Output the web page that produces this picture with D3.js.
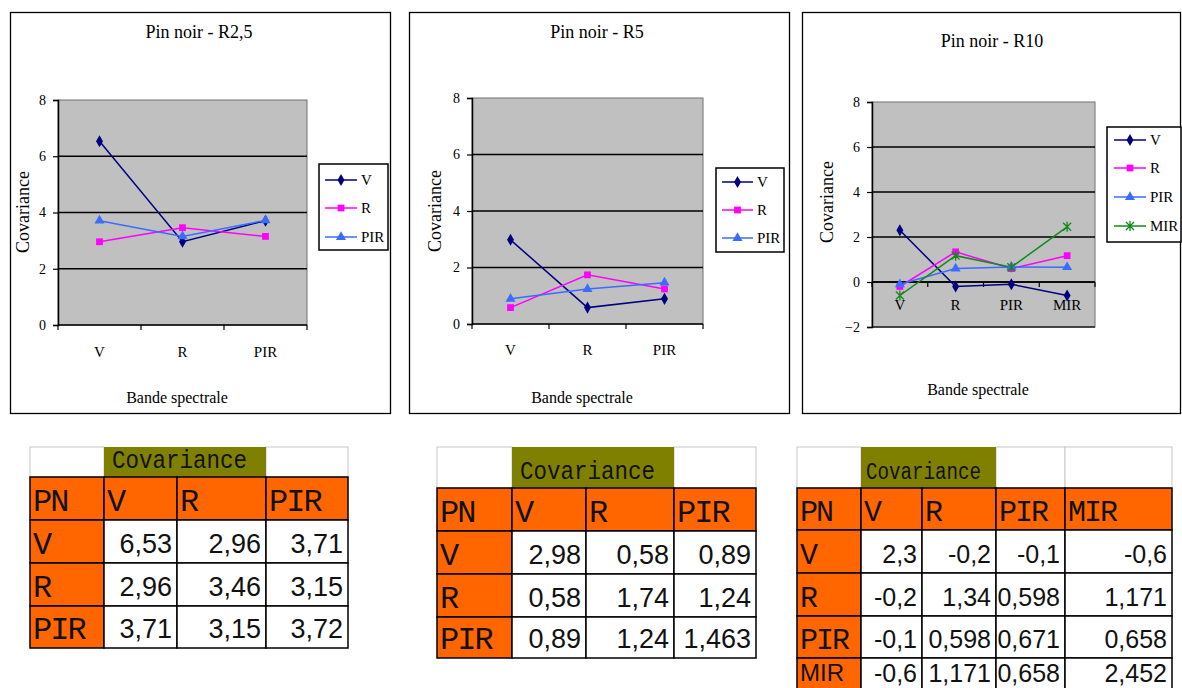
<!DOCTYPE html>
<html>
<head>
<meta charset="utf-8">
<script src="https://cdn.jsdelivr.net/npm/d3@7"></script>
<style>
  body { margin: 0; background: #ffffff; }
  svg { display: block; }
</style>
</head>
<body>
<svg id="chart" width="1182" height="688"></svg>
<script>
// ---------------- DATA ----------------
const bands3 = ["V", "R", "PIR"];
const bands4 = ["V", "R", "PIR", "MIR"];
const yTicksA = [0, 2, 4, 6, 8];
const yTicksB = [-2, 0, 2, 4, 6, 8];

const titles = ["Pin noir - R2,5", "Pin noir - R5", "Pin noir - R10"];
const yAxisTitle = "Covariance";
const xAxisTitle = "Bande spectrale";
const tableCaption = "Covariance";
const tableCorner = "PN";

// Pin noir R2,5
const r25_V   = [6.53, 2.96, 3.71];
const r25_R   = [2.96, 3.46, 3.15];
const r25_PIR = [3.71, 3.15, 3.72];
// Pin noir R5
const r5_V   = [2.98, 0.58, 0.89];
const r5_R   = [0.58, 1.74, 1.24];
const r5_PIR = [0.89, 1.24, 1.463];
// Pin noir R10
const r10_V   = [2.3, -0.2, -0.1, -0.6];
const r10_R   = [-0.2, 1.34, 0.598, 1.171];
const r10_PIR = [-0.1, 0.598, 0.671, 0.658];
const r10_MIR = [-0.6, 1.171, 0.658, 2.452];

// ---------------- STYLE ----------------
const seriesStyle = {
  V:   { color: "#000080", marker: "diamond" },
  R:   { color: "#ff00ff", marker: "square" },
  PIR: { color: "#3a6cff", marker: "triangle" },
  MIR: { color: "#12891b", marker: "star" }
};
const SERIF = "'Liberation Serif','Times New Roman',serif";
const MONO = "'Liberation Mono','Courier New',monospace";
const SANS = "'Liberation Sans',Arial,sans-serif";

const svg = d3.select("#chart");

function markerPath(type) {
  if (type === "diamond") return d3.symbol().type(d3.symbolDiamond).size(42)();
  if (type === "square") return d3.symbol().type(d3.symbolSquare).size(46)();
  if (type === "triangle") return d3.symbol().type(d3.symbolTriangle).size(44)();
  return "M-4,-4L4,4M-4,4L4,-4M0,-5L0,5";
}

function drawMarker(g, type, color, x, y) {
  const p = g.append("path").attr("d", markerPath(type))
    .attr("transform", `translate(${x},${y})`);
  if (type === "star") p.attr("fill", "none").attr("stroke", color).attr("stroke-width", 1.3);
  else p.attr("fill", color);
}

const charts = [
  {
    title: titles[0], cats: bands3, ticks: yTicksA,
    series: [["V", r25_V], ["R", r25_R], ["PIR", r25_PIR]],
    frame: [10, 12, 391, 414], plot: [58, 100, 307, 325],
    titlePos: [199, 38], yLabPos: [29, 212], xLabPos: [177, 403], catY: 357,
    legend: [319, 164, 388, 250], legendY: [180, 208, 237], legendX: [325, 357, 361]
  },
  {
    title: titles[1], cats: bands3, ticks: yTicksA,
    series: [["V", r5_V], ["R", r5_R], ["PIR", r5_PIR]],
    frame: [409, 12, 790, 414], plot: [472, 98, 703, 324],
    titlePos: [597, 38], yLabPos: [441, 211], xLabPos: [582, 403], catY: 355,
    legend: [716, 168, 784, 252], legendY: [182, 210, 238], legendX: [722, 753, 757]
  },
  {
    title: titles[2], cats: bands4, ticks: yTicksB,
    series: [["V", r10_V], ["R", r10_R], ["PIR", r10_PIR], ["MIR", r10_MIR]],
    frame: [802, 12, 1181, 414], plot: [872, 102, 1095, 327],
    titlePos: [992, 47], yLabPos: [833, 202], xLabPos: [978, 395], catY: 310,
    legend: [1107, 127, 1181, 242], legendY: [140, 168, 197, 226], legendX: [1114, 1146, 1150]
  }
];

charts.forEach(c => {
  const g = svg.append("g");
  const [fx0, fy0, fx1, fy1] = c.frame;
  const [px0, py0, px1, py1] = c.plot;
  g.append("rect").attr("x", fx0 + 0.5).attr("y", fy0 + 0.5)
    .attr("width", fx1 - fx0 - 1).attr("height", fy1 - fy0 - 1)
    .attr("fill", "#fff").attr("stroke", "#000").attr("stroke-width", 1.3);

  const x = d3.scaleBand().domain(c.cats).range([px0, px1]);
  const y = d3.scaleLinear().domain(d3.extent(c.ticks)).range([py1, py0]);
  const tMin = d3.min(c.ticks), tMax = d3.max(c.ticks);

  // plot area
  g.append("rect").attr("x", px0).attr("y", py0).attr("width", px1 - px0).attr("height", py1 - py0)
    .attr("fill", "#c0c0c0").attr("stroke", "#707070").attr("stroke-width", 1);
  // gridlines
  g.append("g").selectAll("line").data(c.ticks.filter(t => t !== tMax && t !== tMin))
    .join("line")
    .attr("x1", px0).attr("x2", px1).attr("y1", d => y(d)).attr("y2", d => y(d))
    .attr("stroke", "#000").attr("stroke-width", 1.5);
  if (tMin < 0) {
    g.append("line").attr("x1", px0).attr("x2", px1).attr("y1", py1).attr("y2", py1)
      .attr("stroke", "#222").attr("stroke-width", 1.5);
  }

  // y axis
  const ya = g.append("g").attr("transform", `translate(${px0},0)`)
    .call(d3.axisLeft(y).tickValues(c.ticks).tickSize(5).tickPadding(7).tickFormat(d3.format("d")));
  ya.select(".domain").attr("stroke", "#000").attr("stroke-width", 1.5);
  ya.selectAll(".tick line").attr("stroke", "#000").attr("stroke-width", 1.2);
  ya.selectAll("text").attr("font-family", SERIF).attr("font-size", 14).attr("fill", "#000");

  // x axis at y(0)
  const y0 = y(0);
  g.append("line").attr("x1", px0).attr("x2", px1).attr("y1", y0).attr("y2", y0)
    .attr("stroke", "#000").attr("stroke-width", 1.5);
  const edges = c.cats.map(d => x(d)).concat([px1]);
  g.append("g").selectAll("line").data(edges).join("line")
    .attr("x1", d => d).attr("x2", d => d).attr("y1", y0).attr("y2", y0 + 5)
    .attr("stroke", "#000").attr("stroke-width", 1.2);
  g.append("g").selectAll("text").data(c.cats).join("text")
    .attr("x", d => x(d) + x.bandwidth() / 2).attr("y", c.catY)
    .attr("text-anchor", "middle").attr("font-family", SERIF).attr("font-size", 15)
    .text(d => d);

  // series
  const line = d3.line().x((d, i) => x(c.cats[i]) + x.bandwidth() / 2).y(d => y(d));
  c.series.forEach(([name, vals]) => {
    const st = seriesStyle[name];
    g.append("path").datum(vals).attr("d", line).attr("fill", "none")
      .attr("stroke", st.color).attr("stroke-width", 1.5);
  });
  c.series.forEach(([name, vals]) => {
    const st = seriesStyle[name];
    vals.forEach((v, i) => drawMarker(g, st.marker, st.color, x(c.cats[i]) + x.bandwidth() / 2, y(v)));
  });

  // titles
  g.append("text").attr("x", c.titlePos[0]).attr("y", c.titlePos[1]).attr("text-anchor", "middle")
    .attr("font-family", SERIF).attr("font-size", 18).text(c.title);
  g.append("text").attr("transform", `translate(${c.yLabPos[0]},${c.yLabPos[1]}) rotate(-90)`)
    .attr("text-anchor", "middle").attr("font-family", SERIF).attr("font-size", 18).text(yAxisTitle);
  g.append("text").attr("x", c.xLabPos[0]).attr("y", c.xLabPos[1]).attr("text-anchor", "middle")
    .attr("font-family", SERIF).attr("font-size", 16).text(xAxisTitle);

  // legend
  const [lx0, ly0, lx1, ly1] = c.legend;
  g.append("rect").attr("x", lx0).attr("y", ly0).attr("width", lx1 - lx0).attr("height", ly1 - ly0)
    .attr("fill", "#fff").attr("stroke", "#000").attr("stroke-width", 1.5);
  c.series.forEach(([name], i) => {
    const st = seriesStyle[name];
    const ly = c.legendY[i];
    g.append("line").attr("x1", c.legendX[0]).attr("x2", c.legendX[1]).attr("y1", ly).attr("y2", ly)
      .attr("stroke", st.color).attr("stroke-width", 1.5);
    drawMarker(g, st.marker, st.color, (c.legendX[0] + c.legendX[1]) / 2, ly);
    g.append("text").attr("x", c.legendX[2]).attr("y", ly + 5).attr("font-family", SERIF)
      .attr("font-size", 15).text(name);
  });
});

// ---------------- TABLES ----------------
const fmt = v => String(v).replace(".", ",");
const tables = [
  { cats: bands3, rows: [r25_V, r25_R, r25_PIR],
    cols: [30, 104, 177, 266, 348], rowsY: [447, 477, 520, 563, 606, 648], olive: [1, 2],
    numSize: 27, capY: 468, capX: 112, capW: 135, labSize: 32 },
  { cats: bands3, rows: [r5_V, r5_R, r5_PIR],
    cols: [437, 512, 586, 674, 756], rowsY: [447, 488, 531, 574, 617, 658], olive: [1, 2],
    numSize: 27, capY: 479, capX: 520, capW: 135, labSize: 32 },
  { cats: bands4, rows: [r10_V, r10_R, r10_PIR, r10_MIR],
    cols: [797, 861, 922, 996, 1065, 1172], rowsY: [447, 488, 530, 573, 616, 658, 700], olive: [1, 2],
    numSize: 25, capY: 479, capX: 866, capW: 115, labSize: 30 }
];

tables.forEach((t, ti) => {
  const g = svg.append("g");
  const C = t.cols, R = t.rowsY;
  const ncol = C.length - 1;
  // top caption row
  for (let j = 0; j < ncol; j++) {
    if (j >= t.olive[0] && j <= t.olive[1]) continue;
    g.append("rect").attr("x", C[j]).attr("y", R[0]).attr("width", C[j + 1] - C[j]).attr("height", R[1] - R[0])
      .attr("fill", "#fff").attr("stroke", "#c8c8c8").attr("stroke-width", 1);
  }
  g.append("rect").attr("x", C[t.olive[0]]).attr("y", R[0])
    .attr("width", C[t.olive[1] + 1] - C[t.olive[0]]).attr("height", R[1] - R[0])
    .attr("fill", "#808000");
  g.append("text").attr("x", t.capX).attr("y", t.capY)
    .attr("font-family", MONO).attr("font-size", ti === 2 ? 23 : 26)
    .attr("textLength", t.capW).attr("lengthAdjust", "spacingAndGlyphs")
    .attr("fill", "#111").text(tableCaption);

  // header row + body
  const labels = [tableCorner].concat(t.cats);
  const nrows = t.rows.length + 1;
  for (let i = 0; i < nrows; i++) {
    const yTop = R[i + 1], yBot = R[i + 2];
    for (let j = 0; j < ncol; j++) {
      const isOrange = i === 0 || j === 0;
      g.append("rect").attr("x", C[j]).attr("y", yTop).attr("width", C[j + 1] - C[j]).attr("height", yBot - yTop)
        .attr("fill", isOrange ? "#ff6600" : "#ffffff")
        .attr("stroke", "#000").attr("stroke-width", 1.5);
    }
  }
  for (let i = 0; i < nrows; i++) {
    const yTop = R[i + 1], yBot = R[i + 2];
    const h = yBot - yTop;
    const baseL = Math.min(yTop + h - 9, 682);
    const baseN = Math.min(yTop + h - 10, 682);
    for (let j = 0; j < ncol; j++) {
      if (i === 0 || j === 0) {
        const lab = i === 0 ? labels[j] : labels[i];
        const sansLast = ti === 2 && j === 0 && i === nrows - 1;
        g.append("text").attr("x", C[j] + 3).attr("y", sansLast ? 681 : baseL)
          .attr("font-family", sansLast ? SANS : MONO).attr("font-size", sansLast ? 24 : t.labSize)
          .attr("letter-spacing", sansLast ? 0 : -2).attr("fill", "#111").text(lab);
      } else {
        g.append("text").attr("x", C[j + 1] - 5).attr("y", baseN)
          .attr("text-anchor", "end").attr("font-family", SANS).attr("font-size", t.numSize)
          .attr("fill", "#111").text(fmt(t.rows[i - 1][j - 1]));
      }
    }
  }
});
</script>
</body>
</html>
